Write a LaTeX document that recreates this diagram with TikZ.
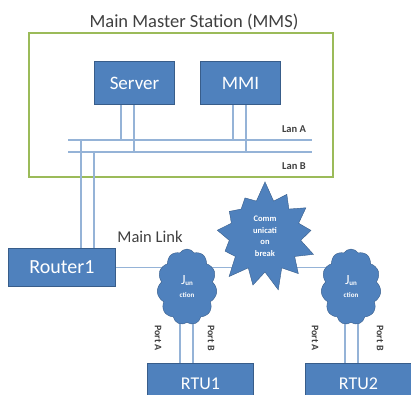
\documentclass[tikz,border=0pt]{standalone}
\usepackage{fontspec}
\setmainfont{Carlito}
\usetikzlibrary{shapes.symbols, backgrounds, calc}
\definecolor{scBlue}{RGB}{79,129,189}
\definecolor{scEdge}{RGB}{56,93,138}
\definecolor{scLan}{RGB}{149,179,215}
\definecolor{scGreen}{RGB}{155,187,89}
\definecolor{scInk}{RGB}{64,64,64}

\begin{document}
\begin{tikzpicture}[x=1pt,y=-1pt,
  unit/.style={draw=scEdge,line width=1pt,fill=scBlue,text=white,
               font=\fontsize{19}{19}\selectfont,inner sep=0pt,anchor=north west},
  lan/.style={draw=scLan,line width=1.1pt},
  junc/.style={cloud,cloud puffs=11,cloud puff arc=115,aspect=0.8,
               draw=scEdge,fill=scBlue,text=white,align=center,
               minimum width=60pt,minimum height=76pt,inner sep=0pt},
  lanlbl/.style={font=\fontsize{10.5}{10.5}\selectfont\bfseries,text=scInk},
  portlbl/.style={font=\fontsize{10}{10}\selectfont\bfseries,text=scInk,rotate=-90}]

\useasboundingbox (0,0) rectangle (411,394);

% ===== MMS: station box, server, MMI =====
\node[font=\fontsize{18.5}{18.5}\selectfont,text=scInk] (title) at (194,22) {Main Master Station (MMS)};
\node[draw=scGreen,line width=1.5pt,anchor=north west,
      minimum width=304pt,minimum height=144pt,inner sep=0pt] (mms) at (28,32) {};
\node[unit,minimum width=80pt,minimum height=43pt] (server) at (94,61) {Server};
\node[unit,minimum width=80pt,minimum height=43pt] (mmi) at (200,61) {MMI};

\coordinate (lanA-w) at (68,140);
\coordinate (lanA-e) at (312,140);
\coordinate (lanB-w) at (68,152);
\coordinate (lanB-e) at (312,152);
\draw[lan] (lanA-w) -- (lanA-e);
\draw[lan] (lanB-w) -- (lanB-e);
\node[lanlbl] (lblA) at (294,129) {Lan A};
\node[lanlbl] (lblB) at (294,166) {Lan B};

\draw[lan] ([xshift=27pt]server.south west) -- ([xshift=27pt]server.south west |- lanA-w);
\draw[lan] ([xshift=40pt]server.south west) -- ([xshift=40pt]server.south west |- lanB-w);
\draw[lan] ([xshift=33pt]mmi.south west) -- ([xshift=33pt]mmi.south west |- lanA-w);
\draw[lan] ([xshift=46pt]mmi.south west) -- ([xshift=46pt]mmi.south west |- lanB-w);

% ===== field side: router, junctions, RTUs =====
\node[unit,minimum width=107pt,minimum height=38pt,font=\fontsize{20}{20}\selectfont] (router) at (8,248) {Router1};
\node[font=\fontsize{16.5}{16.5}\selectfont,text=scInk] (mainlink) at (150,237) {Main Link};

\draw[lan] ([xshift=73pt]router.north west |- lanA-w) -- ([xshift=73pt]router.north west);
\draw[lan] ([xshift=86pt]router.north west |- lanB-w) -- ([xshift=86pt]router.north west);

\node[junc] (junA) at (187,287)
   {\fontsize{14}{14}\selectfont J\raisebox{-1pt}{\fontsize{7}{7}\selectfont\bfseries un}\\[1pt]
    \fontsize{7}{7}\selectfont\bfseries ction};
\node[junc] (junB) at (351,287)
   {\fontsize{14}{14}\selectfont J\raisebox{-1pt}{\fontsize{7}{7}\selectfont\bfseries un}\\[1pt]
    \fontsize{7}{7}\selectfont\bfseries ction};

\node[starburst,starburst points=13,starburst point height=20pt,random starburst=7,
      draw=scEdge,fill=scBlue,text=white,align=center,inner sep=0pt,
      minimum width=112pt,minimum height=112pt,
      font=\fontsize{8.5}{11.5}\selectfont\bfseries] (brk) at (265,236)
   {Comm\\unicati\\on\\break};

\node[unit,minimum width=106pt,minimum height=40pt,font=\fontsize{18}{18}\selectfont] (rtuA) at (147,363) {RTU1};
\node[unit,minimum width=106pt,minimum height=40pt,font=\fontsize{18}{18}\selectfont] (rtuB) at (305,363) {RTU2};

\begin{scope}[on background layer]
  \draw[lan] (router.east) -- (router.east -| junA.center);
  \draw[lan] (junA.center |- router.east) -- (brk.center |- router.east);
  \draw[lan] (brk.center |- router.east) -- (router.east -| junB.center);
  \draw[lan] ([xshift=-7pt]junA.center) -- ([xshift=-7pt]junA.center |- rtuA.north);
  \draw[lan] ([xshift=6pt]junA.center) -- ([xshift=6pt]junA.center |- rtuA.north);
  \draw[lan] ([xshift=-6pt]junB.center) -- ([xshift=-6pt]junB.center |- rtuB.north);
  \draw[lan] ([xshift=7pt]junB.center) -- ([xshift=7pt]junB.center |- rtuB.north);
\end{scope}

\node[portlbl] (pA1) at (158,338) {Port A};
\node[portlbl] (pB1) at (211,338) {Port B};
\node[portlbl] (pA2) at (315,338) {Port A};
\node[portlbl] (pB2) at (380,338) {Port B};
\end{tikzpicture}
\end{document}
